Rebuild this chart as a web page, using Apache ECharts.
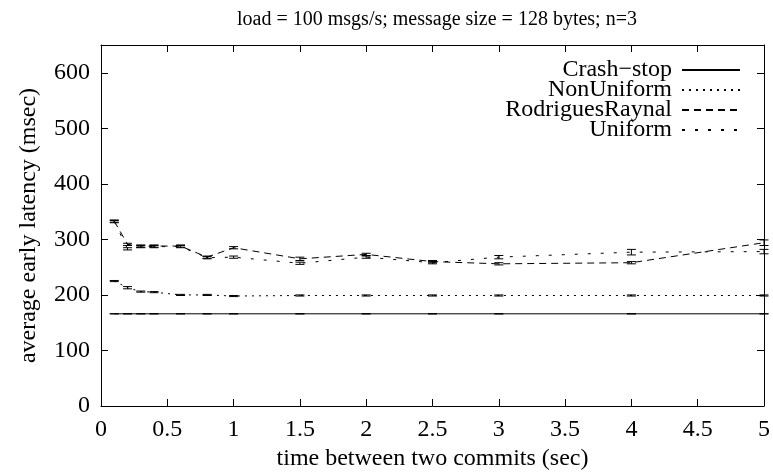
<!DOCTYPE html>
<html lang="en">
<head>
    <meta charset="UTF-8">
    <title>early latency</title>
    <script src="https://cdn.jsdelivr.net/npm/echarts@6/dist/echarts.min.js"></script>
    <style>
        html, body { margin: 0; padding: 0; background: #fff; }
        #main { width: 773px; height: 473px; }
    </style>
</head>
<body>
<div id="main"></div>
<script>
// time between two commits (sec)
var xs = [0.1, 0.2, 0.3, 0.4, 0.6, 0.8, 1, 1.5, 2, 2.5, 3, 4, 5];

// average early latency (msec) and half error bars
var crashStop     = [166, 166, 166, 166, 166, 166, 166, 166, 166, 166, 166, 166, 166];
var crashErr      = [0, 0, 0, 0, 0, 0, 0, 0, 0, 0, 0, 0, 0];
var nonUniform    = [225, 213, 206, 205, 200, 200, 198, 199, 199, 199, 199, 199, 199];
var nonUniformErr = [1, 2, 1, 1, 1, 1, 1, 1, 1, 1, 1, 1, 1];
var rodrigues     = [333, 291, 288, 288, 288, 268, 285, 265, 273, 260, 256, 258, 294];
var rodriguesErr  = [2, 2, 2, 2, 2, 2, 2, 3, 2, 2, 2, 2, 5];
var uniform       = [332, 283, 287, 287, 287, 267, 268, 257, 268, 258, 268, 277, 278];
var uniformErr    = [2, 2, 2, 2, 2, 2, 2, 2, 2, 2, 3, 5, 4];

var names = ['Crash\u2212stop', 'NonUniform', 'RodriguesRaynal', 'Uniform'];
var FONT = 'Liberation Serif, Times New Roman, serif';

function pairs(vals) {
    return xs.map(function (x, i) { return [x, vals[i]]; });
}
function errData(vals, errs) {
    return xs.map(function (x, i) { return [x, vals[i] - errs[i], vals[i] + errs[i]]; });
}

function renderErr(params, api) {
    var x = api.value(0);
    var lo = api.coord([x, api.value(1)]);
    var hi = api.coord([x, api.value(2)]);
    var w = 4.5;
    function ln(x1, y1, x2, y2) {
        return { type: 'line', shape: { x1: x1, y1: y1, x2: x2, y2: y2 },
                 style: { stroke: '#000', lineWidth: 1 } };
    }
    return {
        type: 'group',
        children: [
            ln(lo[0], lo[1], hi[0], hi[1]),
            ln(lo[0] - w, lo[1], lo[0] + w, lo[1]),
            ln(hi[0] - w, hi[1], hi[0] + w, hi[1])
        ]
    };
}

function lineSeries(name, vals, dash) {
    return {
        name: name,
        type: 'line',
        data: pairs(vals),
        symbol: 'none',
        showSymbol: false,
        animation: false,
        lineStyle: { color: '#000', width: 1, type: dash },
        itemStyle: { color: '#000' }
    };
}

function errSeries(name, vals, errs) {
    return {
        name: name,
        type: 'custom',
        renderItem: renderErr,
        data: errData(vals, errs),
        encode: { x: 0, y: [1, 2] },
        silent: true,
        animation: false,
        z: 3
    };
}

var myChart = echarts.init(document.getElementById('main'));

function axisCommon() {
    return {
        axisLine: { show: true, onZero: false, lineStyle: { color: '#000', width: 1 } },
        axisTick: { show: true, inside: true, length: 7, lineStyle: { color: '#000' } },
        splitLine: { show: false }
    };
}

myChart.setOption({
    animation: false,
    backgroundColor: '#fff',
    title: {
        text: 'load = 100 msgs/s; message size = 128 bytes; n=3',
        left: 432,
        textAlign: 'center',
        top: 5,
        textStyle: { fontFamily: FONT, fontSize: 20, fontWeight: 'normal', color: '#000' }
    },
    legend: {
        data: names,
        orient: 'vertical',
        align: 'right',
        right: 27,
        top: 53,
        itemWidth: 58,
        itemHeight: 14,
        itemGap: -4,
        selectedMode: false,
        itemStyle: { opacity: 0 },
        textStyle: { fontFamily: FONT, fontSize: 24, color: '#000', padding: [0, 5, 0, 0] }
    },
    grid: { left: 101, right: 9, top: 45, bottom: 67, containLabel: false, outerBoundsMode: 'none' },
    xAxis: [
        Object.assign({
            type: 'value', min: 0, max: 5, interval: 0.5, position: 'bottom',
            name: 'time between two commits (sec)',
            nameLocation: 'middle', nameGap: 38,
            nameTextStyle: { fontFamily: FONT, fontSize: 24, color: '#000' },
            axisLabel: { fontFamily: FONT, fontSize: 24, color: '#000', margin: 12 }
        }, axisCommon()),
        Object.assign({
            type: 'value', min: 0, max: 5, interval: 0.5, position: 'top',
            axisLabel: { show: false }
        }, axisCommon())
    ],
    yAxis: [
        Object.assign({
            type: 'value', min: 0, max: 650, interval: 100, position: 'left',
            name: 'average early latency (msec)',
            nameLocation: 'middle', nameGap: 60,
            nameTextStyle: { fontFamily: FONT, fontSize: 24, color: '#000' },
            axisLabel: { fontFamily: FONT, fontSize: 24, color: '#000', margin: 11, showMaxLabel: false }
        }, axisCommon()),
        Object.assign({
            type: 'value', min: 0, max: 650, interval: 100, position: 'right',
            axisLabel: { show: false }
        }, axisCommon())
    ],
    series: [
        lineSeries(names[0], crashStop, 'solid'),
        lineSeries(names[1], nonUniform, [2, 5]),
        lineSeries(names[2], rodrigues, [7, 5]),
        lineSeries(names[3], uniform, [3, 10]),
        errSeries('err0', crashStop, crashErr),
        errSeries('err1', nonUniform, nonUniformErr),
        errSeries('err2', rodrigues, rodriguesErr),
        errSeries('err3', uniform, uniformErr)
    ]
});
</script>
</body>
</html>
